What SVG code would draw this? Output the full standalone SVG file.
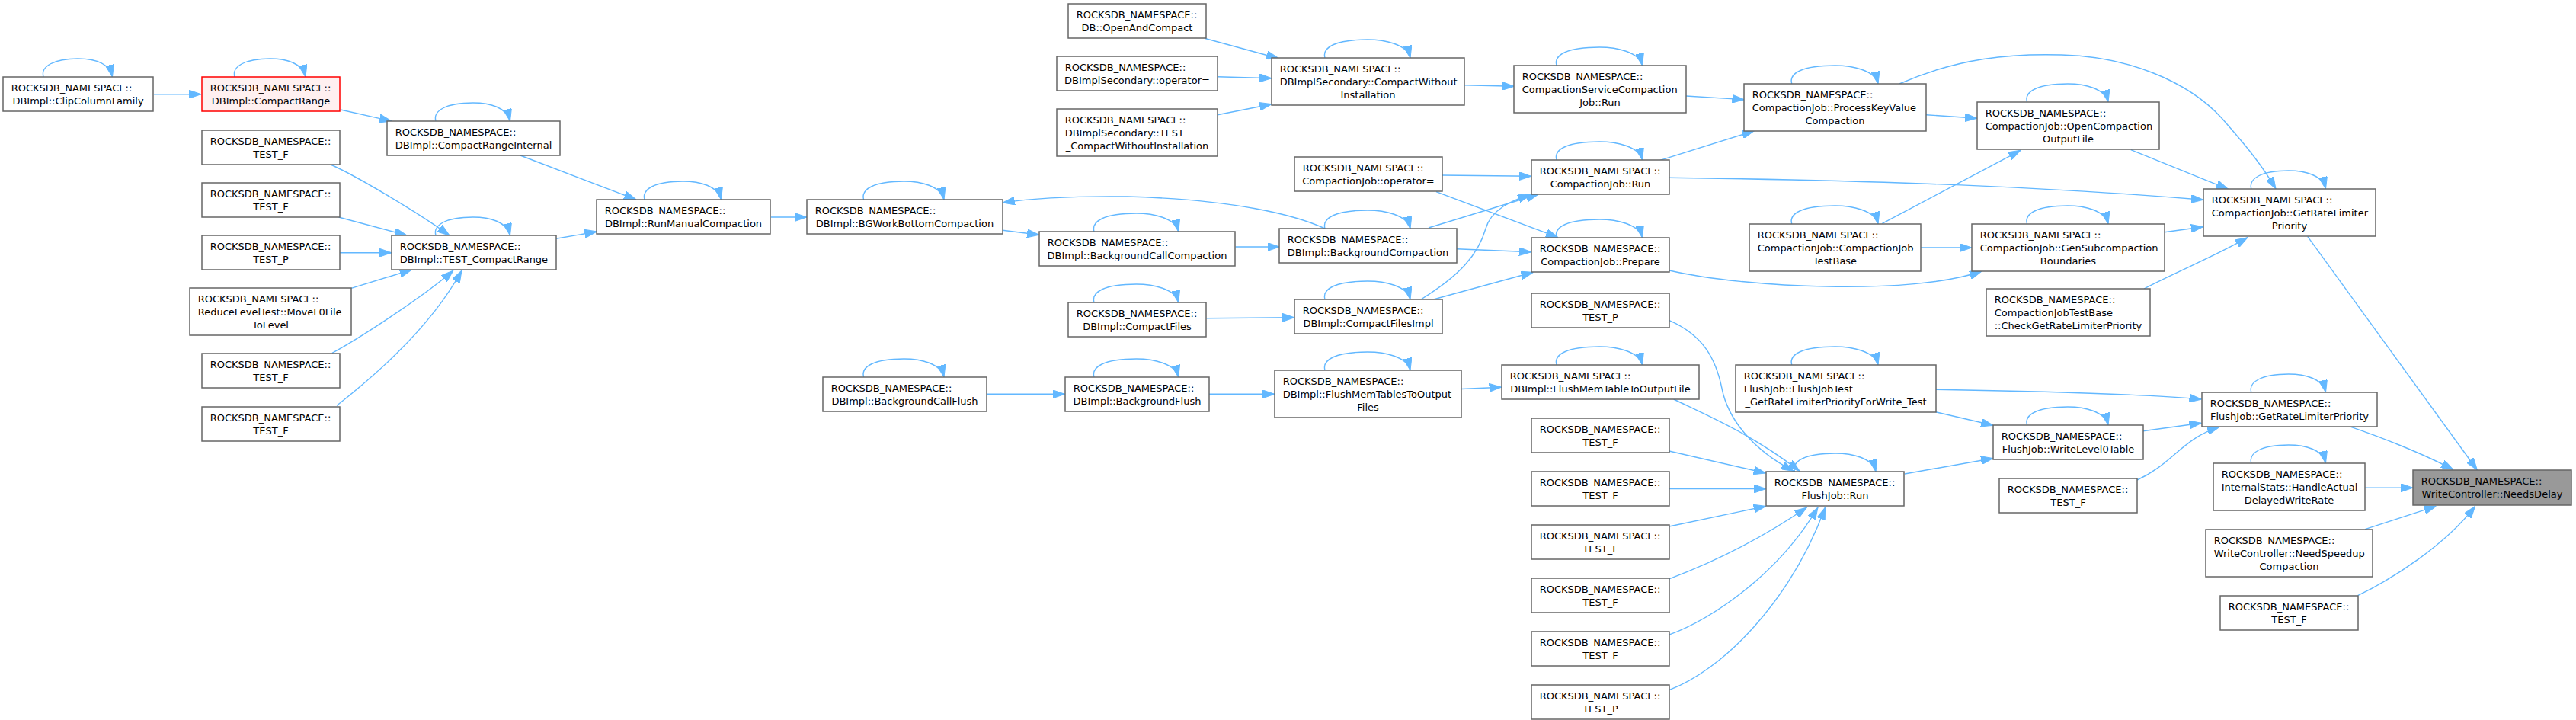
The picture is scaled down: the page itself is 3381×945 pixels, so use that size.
<svg xmlns="http://www.w3.org/2000/svg" width="3381" height="945" viewBox="0 0 3381 945">
<style>
.n rect{fill:#ffffff;stroke:#666666;stroke-width:1.5}
.n text{font-family:"DejaVu Sans","Liberation Sans",sans-serif;font-size:13px;fill:#000000}
.m{text-anchor:middle}
.e path{fill:none;stroke:#63b8ff;stroke-width:1.4;marker-end:url(#ah)}
</style>
<defs>
<marker id="ah" viewBox="0 0 16 11" refX="16" refY="5.5" markerWidth="16" markerHeight="11" markerUnits="userSpaceOnUse" orient="auto"><path d="M0,0 L16,5.5 L0,11 z" fill="#63b8ff" stroke="#63b8ff" stroke-width="1"/></marker>
</defs>
<rect x="0" y="0" width="3381" height="945" fill="#ffffff"/>
<g id="connectors" class="e">
<!-- self loops -->
<path d="M57,101 C53,87 71,77 102.3,77 C124.3,77 143.5,83 147.5,101"/>
<path d="M308,101 C304,87 322,77 354.5,77 C376.5,77 397,83 401,101"/>
<path d="M572,159 C568,145 586,135 620.8,135 C642.8,135 665.5,141 669.5,159"/>
<path d="M572,309 C568,295 586,285 620.8,285 C642.8,285 665.5,291 669.5,309"/>
<path d="M846,262 C842,248 860,238 896.3,238 C918.3,238 942.5,244 946.5,262"/>
<path d="M1133.6,262 C1129.6,248 1147.6,238 1186.3,238 C1208.3,238 1235,244 1239,262"/>
<path d="M1436,304 C1432,290 1450,280 1491.4,280 C1513.4,280 1542.7,286 1546.7,304"/>
<path d="M1436,397 C1432,383 1450,373 1491.4,373 C1513.4,373 1542.7,379 1546.7,397"/>
<path d="M1133.6,495 C1129.6,481 1147.6,471 1186.3,471 C1208.3,471 1235,477 1239,495"/>
<path d="M1436,495 C1432,481 1450,471 1491.4,471 C1513.4,471 1542.7,477 1546.7,495"/>
<path d="M1739,76 C1735,62 1753,52 1795,52 C1817,52 1847,58 1851,76"/>
<path d="M2043,86 C2039,72 2057,62 2099.3,62 C2121.3,62 2151.5,68 2155.5,86"/>
<path d="M2351.7,110 C2347.7,96 2365.7,86 2408.4,86 C2430.4,86 2461,92 2465,110"/>
<path d="M2043,210 C2039,196 2057,186 2099.3,186 C2121.3,186 2151.5,192 2155.5,210"/>
<path d="M1739,300 C1735,286 1753,276 1795,276 C1817,276 1847,282 1851,300"/>
<path d="M2043,312 C2039,298 2057,288 2099.3,288 C2121.3,288 2151.5,294 2155.5,312"/>
<path d="M2351.7,294 C2347.7,280 2365.7,270 2408.4,270 C2430.4,270 2461,276 2465,294"/>
<path d="M1739,393 C1735,379 1753,369 1795,369 C1817,369 1847,375 1851,393"/>
<path d="M1739,486 C1735,472 1753,462 1795,462 C1817,462 1847,468 1851,486"/>
<path d="M2043,479 C2039,465 2057,455 2099.3,455 C2121.3,455 2151.5,461 2155.5,479"/>
<path d="M2351.7,479 C2347.7,465 2365.7,455 2408.4,455 C2430.4,455 2461,461 2465,479"/>
<path d="M2355.5,619 C2351.5,605 2369.5,595 2408.8,595 C2430.8,595 2458,601 2462,619"/>
<path d="M2660.5,134 C2656.5,120 2674.5,110 2713.8,110 C2735.8,110 2763,116 2767,134"/>
<path d="M2954.8,248 C2950.8,234 2968.8,224 3003.7,224 C3025.7,224 3048.5,230 3052.5,248"/>
<path d="M2660.5,294 C2656.5,280 2674.5,270 2713.8,270 C2735.8,270 2763,276 2767,294"/>
<path d="M2954.8,515 C2950.8,501 2968.8,491 3003.7,491 C3025.7,491 3048.5,497 3052.5,515"/>
<path d="M2660.5,558 C2656.5,544 2674.5,534 2713.8,534 C2735.8,534 2763,540 2767,558"/>
<path d="M2954.8,608 C2950.8,594 2968.8,584 3003.7,584 C3025.7,584 3048.5,590 3052.5,608"/>
<!-- edges -->
<path d="M202,123.7 L264,123.7"/>
<path d="M447,144 L514,159"/>
<path d="M683,204 L835,262"/>
<path d="M434,216 C470,232 550,280 590,309"/>
<path d="M444.5,285 L534,309"/>
<path d="M446,331.7 L514,331.7"/>
<path d="M461,378.3 L540.5,354"/>
<path d="M436,463.3 C470,445 555,390 595,355"/>
<path d="M442,532.4 C470,510 560,440 606,355"/>
<path d="M730,313.3 L783.4,304"/>
<path d="M1012,285 L1059,285"/>
<path d="M1739,300 C1700,282 1620,262 1480,258 C1400,257 1350,261 1316,266"/>
<path d="M1316,302.3 L1364,308.3"/>
<path d="M1621.5,324 L1679.5,324"/>
<path d="M1583.5,417.7 L1699,416.7"/>
<path d="M1295,517.3 L1397.6,517.3"/>
<path d="M1587,517.3 L1673,517.3"/>
<path d="M1581,50.3 L1678.4,76.7"/>
<path d="M1598,100.7 L1669,102.7"/>
<path d="M1598,150.7 L1669,136.7"/>
<path d="M1922.4,111.7 L1987.4,113.3"/>
<path d="M2213,126 L2289.4,130.7"/>
<path d="M1892.6,230 L2009.7,231.3"/>
<path d="M1885,251.7 L2045,311.7"/>
<path d="M1875,299 L2019,255"/>
<path d="M1912,326.7 L2009.7,330.7"/>
<path d="M1865,393 C1915,362 1940,335 1950,300 C1958,272 1990,262 2008,255"/>
<path d="M1882.3,392.7 L2012.4,357.3"/>
<path d="M2178.8,210.3 L2302.4,171.7"/>
<path d="M2191,233.3 C2400,236 2650,242 2892,262.3"/>
<path d="M2191,355 C2290,378 2510,388 2601,356"/>
<path d="M2528,150.7 L2595,155.3"/>
<path d="M2493,110 C2570,76 2640,70 2706,72 C2790,74 2870,105 2916,155 C2945,188 2968,215 2987,248"/>
<path d="M2470.4,293.3 L2652,197.3"/>
<path d="M2521,325 L2588,325"/>
<path d="M2796.8,196.7 L2924.7,248.3"/>
<path d="M2841,304.7 L2891.7,297.7"/>
<path d="M2814,379 C2860,355 2910,335 2950,311.7"/>
<path d="M3028.7,310.3 L3251.4,617"/>
<path d="M1918,510.5 L1970.6,508.2"/>
<path d="M2196.7,524 C2240,545 2300,570 2362,618.3"/>
<path d="M2191,420.7 C2235,440 2252,470 2260,510 C2268,550 2300,590 2354,618.3"/>
<path d="M2190.7,592 L2317.6,621"/>
<path d="M2191,641.5 L2318,641.5"/>
<path d="M2190.7,691 L2317.6,664.4"/>
<path d="M2190.7,759.8 C2230,745 2300,715 2371.4,666"/>
<path d="M2190.7,833.2 C2240,815 2330,760 2386,666"/>
<path d="M2190.7,905.6 C2260,880 2350,790 2395.6,666"/>
<path d="M2500,622 L2616,601.5"/>
<path d="M2540.6,511.2 C2650,513 2800,516 2889.5,524"/>
<path d="M2540.6,540.8 L2616,558.3"/>
<path d="M2812.7,565.8 L2889.5,555.3"/>
<path d="M2805,630 C2850,610 2865,575 2913,560.4"/>
<path d="M3085.5,560.4 C3120,572 3180,595 3220,616.6"/>
<path d="M3104.2,640.2 L3167,640.2"/>
<path d="M3104.2,694.7 L3197.4,664.4"/>
<path d="M3094.6,781.6 C3140,760 3210,715 3248.6,664.4"/>
</g>
<g id="n1" class="n"><rect x="4" y="101" width="197" height="45"/><text x="14.7" y="119.6">ROCKSDB_NAMESPACE::</text><text class="m" x="102.5" y="136.6">DBImpl::ClipColumnFamily</text></g>
<g id="n2" class="n"><rect x="265" y="101" width="181" height="45" style="fill:#fff0f0;stroke:#ff0000"/><text x="275.7" y="119.6">ROCKSDB_NAMESPACE::</text><text class="m" x="355.5" y="136.6">DBImpl::CompactRange</text></g>
<g id="n3" class="n"><rect x="508" y="159" width="227" height="45"/><text x="518.7" y="177.6">ROCKSDB_NAMESPACE::</text><text class="m" x="621.5" y="194.6">DBImpl::CompactRangeInternal</text></g>
<g id="n4" class="n"><rect x="265" y="171" width="181" height="45"/><text x="275.7" y="189.6">ROCKSDB_NAMESPACE::</text><text class="m" x="355.5" y="206.6">TEST_F</text></g>
<g id="n5" class="n"><rect x="265" y="240" width="181" height="45"/><text x="275.7" y="258.6">ROCKSDB_NAMESPACE::</text><text class="m" x="355.5" y="275.6">TEST_F</text></g>
<g id="n6" class="n"><rect x="265" y="309" width="181" height="45"/><text x="275.7" y="327.6">ROCKSDB_NAMESPACE::</text><text class="m" x="355.5" y="344.6">TEST_P</text></g>
<g id="n7" class="n"><rect x="249" y="378" width="212" height="62"/><text x="259.7" y="396.6">ROCKSDB_NAMESPACE::</text><text x="259.7" y="413.6">ReduceLevelTest::MoveL0File</text><text class="m" x="355" y="430.6">ToLevel</text></g>
<g id="n8" class="n"><rect x="265" y="464" width="181" height="45"/><text x="275.7" y="482.6">ROCKSDB_NAMESPACE::</text><text class="m" x="355.5" y="499.6">TEST_F</text></g>
<g id="n9" class="n"><rect x="265" y="534" width="181" height="45"/><text x="275.7" y="552.6">ROCKSDB_NAMESPACE::</text><text class="m" x="355.5" y="569.6">TEST_F</text></g>
<g id="n10" class="n"><rect x="514" y="309" width="216" height="45"/><text x="524.7" y="327.6">ROCKSDB_NAMESPACE::</text><text class="m" x="622" y="344.6">DBImpl::TEST_CompactRange</text></g>
<g id="n11" class="n"><rect x="783" y="262" width="228" height="45"/><text x="793.7" y="280.6">ROCKSDB_NAMESPACE::</text><text class="m" x="897" y="297.6">DBImpl::RunManualCompaction</text></g>
<g id="n12" class="n"><rect x="1402" y="5" width="181" height="45"/><text x="1412.7" y="23.6">ROCKSDB_NAMESPACE::</text><text class="m" x="1492.5" y="40.6">DB::OpenAndCompact</text></g>
<g id="n13" class="n"><rect x="1387" y="74" width="211" height="45"/><text x="1397.7" y="92.6">ROCKSDB_NAMESPACE::</text><text class="m" x="1492.5" y="109.6">DBImplSecondary::operator=</text></g>
<g id="n14" class="n"><rect x="1387" y="143" width="211" height="62"/><text x="1397.7" y="161.6">ROCKSDB_NAMESPACE::</text><text x="1397.7" y="178.6">DBImplSecondary::TEST</text><text class="m" x="1492.5" y="195.6">_CompactWithoutInstallation</text></g>
<g id="n15" class="n"><rect x="1059" y="262" width="257" height="45"/><text x="1069.7" y="280.6">ROCKSDB_NAMESPACE::</text><text class="m" x="1187.5" y="297.6">DBImpl::BGWorkBottomCompaction</text></g>
<g id="n16" class="n"><rect x="1364" y="304" width="257" height="45"/><text x="1374.7" y="322.6">ROCKSDB_NAMESPACE::</text><text class="m" x="1492.5" y="339.6">DBImpl::BackgroundCallCompaction</text></g>
<g id="n17" class="n"><rect x="1402" y="397" width="181" height="45"/><text x="1412.7" y="415.6">ROCKSDB_NAMESPACE::</text><text class="m" x="1492.5" y="432.6">DBImpl::CompactFiles</text></g>
<g id="n18" class="n"><rect x="1080" y="495" width="215" height="45"/><text x="1090.7" y="513.6">ROCKSDB_NAMESPACE::</text><text class="m" x="1187.5" y="530.6">DBImpl::BackgroundCallFlush</text></g>
<g id="n19" class="n"><rect x="1398" y="495" width="189" height="45"/><text x="1408.7" y="513.6">ROCKSDB_NAMESPACE::</text><text class="m" x="1492.5" y="530.6">DBImpl::BackgroundFlush</text></g>
<g id="n20" class="n"><rect x="1669" y="76" width="253" height="62"/><text x="1679.7" y="94.6">ROCKSDB_NAMESPACE::</text><text x="1679.7" y="111.6">DBImplSecondary::CompactWithout</text><text class="m" x="1795.5" y="128.6">Installation</text></g>
<g id="n21" class="n"><rect x="1987" y="86" width="226" height="62"/><text x="1997.7" y="104.6">ROCKSDB_NAMESPACE::</text><text x="1997.7" y="121.6">CompactionServiceCompaction</text><text class="m" x="2100" y="138.6">Job::Run</text></g>
<g id="n22" class="n"><rect x="2289" y="110" width="239" height="62"/><text x="2299.7" y="128.6">ROCKSDB_NAMESPACE::</text><text x="2299.7" y="145.6">CompactionJob::ProcessKeyValue</text><text class="m" x="2408.5" y="162.6">Compaction</text></g>
<g id="n23" class="n"><rect x="1699" y="206" width="194" height="45"/><text x="1709.7" y="224.6">ROCKSDB_NAMESPACE::</text><text class="m" x="1796" y="241.6">CompactionJob::operator=</text></g>
<g id="n24" class="n"><rect x="2010" y="210" width="181" height="45"/><text x="2020.7" y="228.6">ROCKSDB_NAMESPACE::</text><text class="m" x="2100.5" y="245.6">CompactionJob::Run</text></g>
<g id="n25" class="n"><rect x="1679" y="300" width="233" height="45"/><text x="1689.7" y="318.6">ROCKSDB_NAMESPACE::</text><text class="m" x="1795.5" y="335.6">DBImpl::BackgroundCompaction</text></g>
<g id="n26" class="n"><rect x="2010" y="312" width="181" height="45"/><text x="2020.7" y="330.6">ROCKSDB_NAMESPACE::</text><text class="m" x="2100.5" y="347.6">CompactionJob::Prepare</text></g>
<g id="n27" class="n"><rect x="2296" y="294" width="225" height="62"/><text x="2306.7" y="312.6">ROCKSDB_NAMESPACE::</text><text x="2306.7" y="329.6">CompactionJob::CompactionJob</text><text class="m" x="2408.5" y="346.6">TestBase</text></g>
<g id="n28" class="n"><rect x="1699" y="393" width="194" height="45"/><text x="1709.7" y="411.6">ROCKSDB_NAMESPACE::</text><text class="m" x="1796" y="428.6">DBImpl::CompactFilesImpl</text></g>
<g id="n29" class="n"><rect x="2010" y="385" width="181" height="45"/><text x="2020.7" y="403.6">ROCKSDB_NAMESPACE::</text><text class="m" x="2100.5" y="420.6">TEST_P</text></g>
<g id="n30" class="n"><rect x="1673" y="486" width="245" height="62"/><text x="1683.7" y="504.6">ROCKSDB_NAMESPACE::</text><text x="1683.7" y="521.6">DBImpl::FlushMemTablesToOutput</text><text class="m" x="1795.5" y="538.6">Files</text></g>
<g id="n31" class="n"><rect x="1971" y="479" width="259" height="45"/><text x="1981.7" y="497.6">ROCKSDB_NAMESPACE::</text><text class="m" x="2100.5" y="514.6">DBImpl::FlushMemTableToOutputFile</text></g>
<g id="n32" class="n"><rect x="2278" y="479" width="263" height="62"/><text x="2288.7" y="497.6">ROCKSDB_NAMESPACE::</text><text x="2288.7" y="514.6">FlushJob::FlushJobTest</text><text class="m" x="2409.5" y="531.6">_GetRateLimiterPriorityForWrite_Test</text></g>
<g id="n33" class="n"><rect x="2010" y="549" width="181" height="45"/><text x="2020.7" y="567.6">ROCKSDB_NAMESPACE::</text><text class="m" x="2100.5" y="584.6">TEST_F</text></g>
<g id="n34" class="n"><rect x="2010" y="619" width="181" height="45"/><text x="2020.7" y="637.6">ROCKSDB_NAMESPACE::</text><text class="m" x="2100.5" y="654.6">TEST_F</text></g>
<g id="n35" class="n"><rect x="2010" y="689" width="181" height="45"/><text x="2020.7" y="707.6">ROCKSDB_NAMESPACE::</text><text class="m" x="2100.5" y="724.6">TEST_F</text></g>
<g id="n36" class="n"><rect x="2010" y="759" width="181" height="45"/><text x="2020.7" y="777.6">ROCKSDB_NAMESPACE::</text><text class="m" x="2100.5" y="794.6">TEST_F</text></g>
<g id="n37" class="n"><rect x="2010" y="829" width="181" height="45"/><text x="2020.7" y="847.6">ROCKSDB_NAMESPACE::</text><text class="m" x="2100.5" y="864.6">TEST_F</text></g>
<g id="n38" class="n"><rect x="2010" y="899" width="181" height="45"/><text x="2020.7" y="917.6">ROCKSDB_NAMESPACE::</text><text class="m" x="2100.5" y="934.6">TEST_P</text></g>
<g id="n39" class="n"><rect x="2318" y="619" width="181" height="45"/><text x="2328.7" y="637.6">ROCKSDB_NAMESPACE::</text><text class="m" x="2408.5" y="654.6">FlushJob::Run</text></g>
<g id="n40" class="n"><rect x="2595" y="134" width="239" height="62"/><text x="2605.7" y="152.6">ROCKSDB_NAMESPACE::</text><text x="2605.7" y="169.6">CompactionJob::OpenCompaction</text><text class="m" x="2714.5" y="186.6">OutputFile</text></g>
<g id="n41" class="n"><rect x="2892" y="248" width="226" height="62"/><text x="2902.7" y="266.6">ROCKSDB_NAMESPACE::</text><text x="2902.7" y="283.6">CompactionJob::GetRateLimiter</text><text class="m" x="3005" y="300.6">Priority</text></g>
<g id="n42" class="n"><rect x="2588" y="294" width="253" height="62"/><text x="2598.7" y="312.6">ROCKSDB_NAMESPACE::</text><text x="2598.7" y="329.6">CompactionJob::GenSubcompaction</text><text class="m" x="2714.5" y="346.6">Boundaries</text></g>
<g id="n43" class="n"><rect x="2607" y="379" width="215" height="62"/><text x="2617.7" y="397.6">ROCKSDB_NAMESPACE::</text><text x="2617.7" y="414.6">CompactionJobTestBase</text><text class="m" x="2714.5" y="431.6">::CheckGetRateLimiterPriority</text></g>
<g id="n44" class="n"><rect x="2890" y="515" width="230" height="45"/><text x="2900.7" y="533.6">ROCKSDB_NAMESPACE::</text><text class="m" x="3005" y="550.6">FlushJob::GetRateLimiterPriority</text></g>
<g id="n45" class="n"><rect x="2616" y="558" width="197" height="45"/><text x="2626.7" y="576.6">ROCKSDB_NAMESPACE::</text><text class="m" x="2714.5" y="593.6">FlushJob::WriteLevel0Table</text></g>
<g id="n46" class="n"><rect x="2624" y="628" width="181" height="45"/><text x="2634.7" y="646.6">ROCKSDB_NAMESPACE::</text><text class="m" x="2714.5" y="663.6">TEST_F</text></g>
<g id="n47" class="n"><rect x="2905" y="608" width="199" height="62"/><text x="2915.7" y="626.6">ROCKSDB_NAMESPACE::</text><text x="2915.7" y="643.6">InternalStats::HandleActual</text><text class="m" x="3004.5" y="660.6">DelayedWriteRate</text></g>
<g id="n48" class="n"><rect x="2895" y="695" width="219" height="62"/><text x="2905.7" y="713.6">ROCKSDB_NAMESPACE::</text><text x="2905.7" y="730.6">WriteController::NeedSpeedup</text><text class="m" x="3004.5" y="747.6">Compaction</text></g>
<g id="n49" class="n"><rect x="2914" y="782" width="181" height="45"/><text x="2924.7" y="800.6">ROCKSDB_NAMESPACE::</text><text class="m" x="3004.5" y="817.6">TEST_F</text></g>
<g id="n50" class="n"><rect x="3167" y="617" width="208" height="46" style="fill:#999999"/><text x="3177.7" y="635.6">ROCKSDB_NAMESPACE::</text><text class="m" x="3271" y="652.6">WriteController::NeedsDelay</text></g>
</svg>
